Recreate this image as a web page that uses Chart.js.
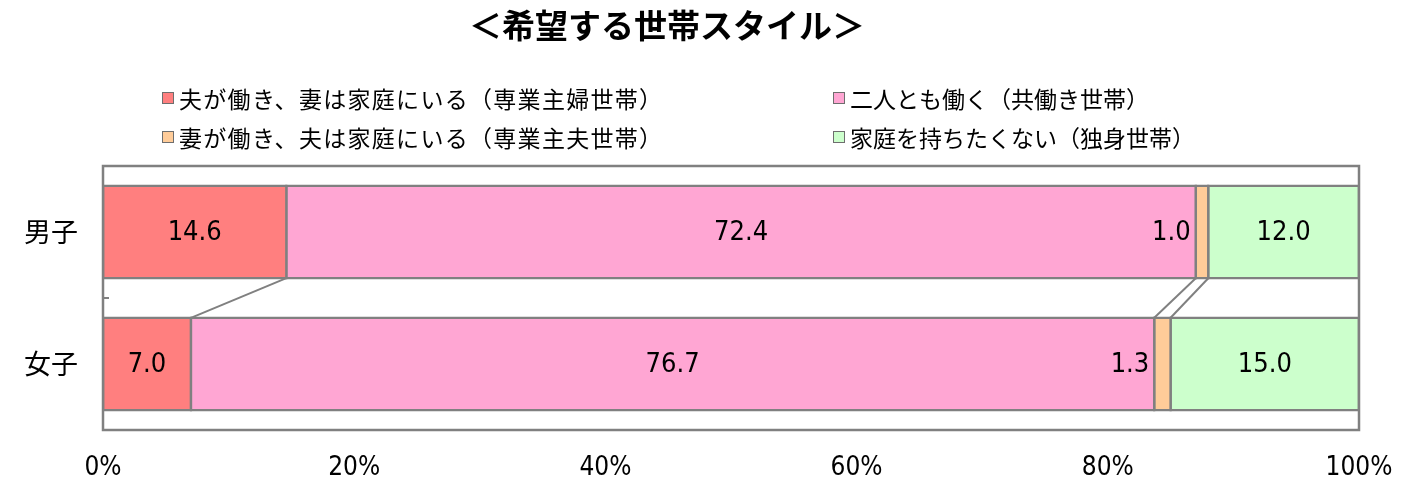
<!DOCTYPE html>
<html>
<head>
<meta charset="utf-8">
<script src="https://cdn.jsdelivr.net/npm/chart.js@4"></script>
<style>
  body { margin: 0; background: #fff; }
  #wrap { position: relative; width: 1412px; height: 496px; }
  #title { position: absolute; left: 0; width: 1334px; top: 6px; text-align: center;
           font: bold 33px "Noto Sans CJK JP", sans-serif; line-height: 36px; color: #000; }
  .leg { position: absolute; font: 23px "Noto Sans CJK JP", sans-serif; line-height: 24px; color: #000; white-space: nowrap; }
  .leg span.box { position: absolute; left: -17px; top: 6px; width: 10px; height: 10px; border: 1.5px solid #6e6e6e; }
</style>
</head>
<body>
<div id="wrap">
  <canvas id="myChart" width="1412" height="496"></canvas>
  <div id="title">＜希望する世帯スタイル＞</div>
</div>
<script>
// categories and series
const categories = ['男子', '女子'];
const seriesNames = [
    '夫が働き、妻は家庭にいる（専業主婦世帯）',
    '二人とも働く（共働き世帯）',
    '妻が働き、夫は家庭にいる（専業主夫世帯）',
    '家庭を持ちたくない（独身世帯）'
];
const housewife = [14.6, 7.0];
const bothWork = [72.4, 76.7];
const househusband = [1.0, 1.3];
const single = [12.0, 15.0];
const xTicks = [0, 20, 40, 60, 80, 100];

const colors = ['#FF7F7F', '#FFA6D3', '#FFCC99', '#CCFFCC'];
const borderGray = '#808080';
const numFont = '"Liberation Sans Narrow", "DejaVu Sans Condensed", sans-serif';

// legend placement (two columns, column-major like the original)
const legendPos = [[179, 86], [850, 86], [179, 125], [850, 125]];
const legendSpacing = ['1.3px', '0px', '1.3px', '0px'];
const wrap = document.getElementById('wrap');
seriesNames.forEach((name, i) => {
    const d = document.createElement('div');
    d.className = 'leg';
    d.style.left = legendPos[i][0] + 'px';
    d.style.top = legendPos[i][1] + 'px';
    d.style.letterSpacing = legendSpacing[i];
    d.innerHTML = `<span class="box" style="background:${colors[i]}"></span>${name}`;
    wrap.appendChild(d);
});

const allSeries = [housewife, bothWork, househusband, single];

// series lines, frame, value labels
const extras = {
    id: 'extras',
    afterDatasetsDraw(chart) {
        const c = chart.ctx;
        const area = chart.chartArea;
        const xs = chart.scales.x;
        const ys = chart.scales.y;
        c.save();
        // series lines between the two bars
        c.strokeStyle = borderGray;
        c.lineWidth = 2;
        let cum0 = 0, cum1 = 0;
        for (let i = 0; i < allSeries.length - 1; i++) {
            cum0 += allSeries[i][0];
            cum1 += allSeries[i][1];
            const b0 = chart.getDatasetMeta(i).data[0];
            const b1 = chart.getDatasetMeta(i).data[1];
            c.beginPath();
            c.moveTo(xs.getPixelForValue(cum0), b0.y + b0.height / 2);
            c.lineTo(xs.getPixelForValue(cum1), b1.y - b1.height / 2);
            c.stroke();
        }
        // plot frame
        c.lineWidth = 2.5;
        c.strokeRect(area.left, area.top, area.right - area.left, area.bottom - area.top);
        // category divider tick
        const mid = (ys.getPixelForValue(0) + ys.getPixelForValue(1)) / 2;
        c.lineWidth = 2;
        c.beginPath();
        c.moveTo(area.left, mid);
        c.lineTo(area.left + 6, mid);
        c.stroke();
        // value labels
        c.fillStyle = '#000';
        c.font = '27px ' + numFont;
        c.textBaseline = 'middle';
        chart.data.datasets.forEach((ds, i) => {
            chart.getDatasetMeta(i).data.forEach((bar, j) => {
                const txt = ds.data[j].toFixed(1);
                if (i === 2) {
                    c.textAlign = 'right';
                    c.fillText(txt, Math.min(bar.x, bar.base) - 5, bar.y + 1);
                } else {
                    c.textAlign = 'center';
                    c.fillText(txt, (bar.x + bar.base) / 2, bar.y + 1);
                }
            });
        });
        c.restore();
    }
};

new Chart(document.getElementById('myChart'), {
    type: 'bar',
    data: {
        labels: categories,
        datasets: allSeries.map((vals, i) => ({
            label: seriesNames[i],
            data: vals,
            backgroundColor: colors[i],
            borderColor: borderGray,
            borderWidth: 2.5,
            inflateAmount: 1.25,
            borderSkipped: false,
            barPercentage: 0.7,
            categoryPercentage: 1.0
        }))
    },
    options: {
        indexAxis: 'y',
        responsive: false,
        animation: false,
        layout: { padding: { top: 166, right: 53, left: 0, bottom: 0 } },
        plugins: {
            legend: { display: false },
            tooltip: { enabled: false }
        },
        scales: {
            x: {
                stacked: true,
                min: 0,
                max: 100,
                afterBuildTicks: s => { s.ticks = xTicks.map(v => ({ value: v })); },
                afterFit: s => { s.height = 66; },
                grid: { display: false },
                border: { display: false },
                ticks: {
                    padding: 15,
                    color: '#000',
                    font: { family: numFont, size: 26 },
                    maxRotation: 0,
                    callback: v => v + '%'
                }
            },
            y: {
                stacked: true,
                afterFit: s => { s.width = 103; },
                grid: { display: false, drawTicks: false },
                border: { display: false },
                ticks: {
                    padding: 25,
                    color: '#000',
                    font: { family: '"Noto Sans CJK JP", sans-serif', size: 27 }
                }
            }
        }
    },
    plugins: [extras]
});
</script>
</body>
</html>
